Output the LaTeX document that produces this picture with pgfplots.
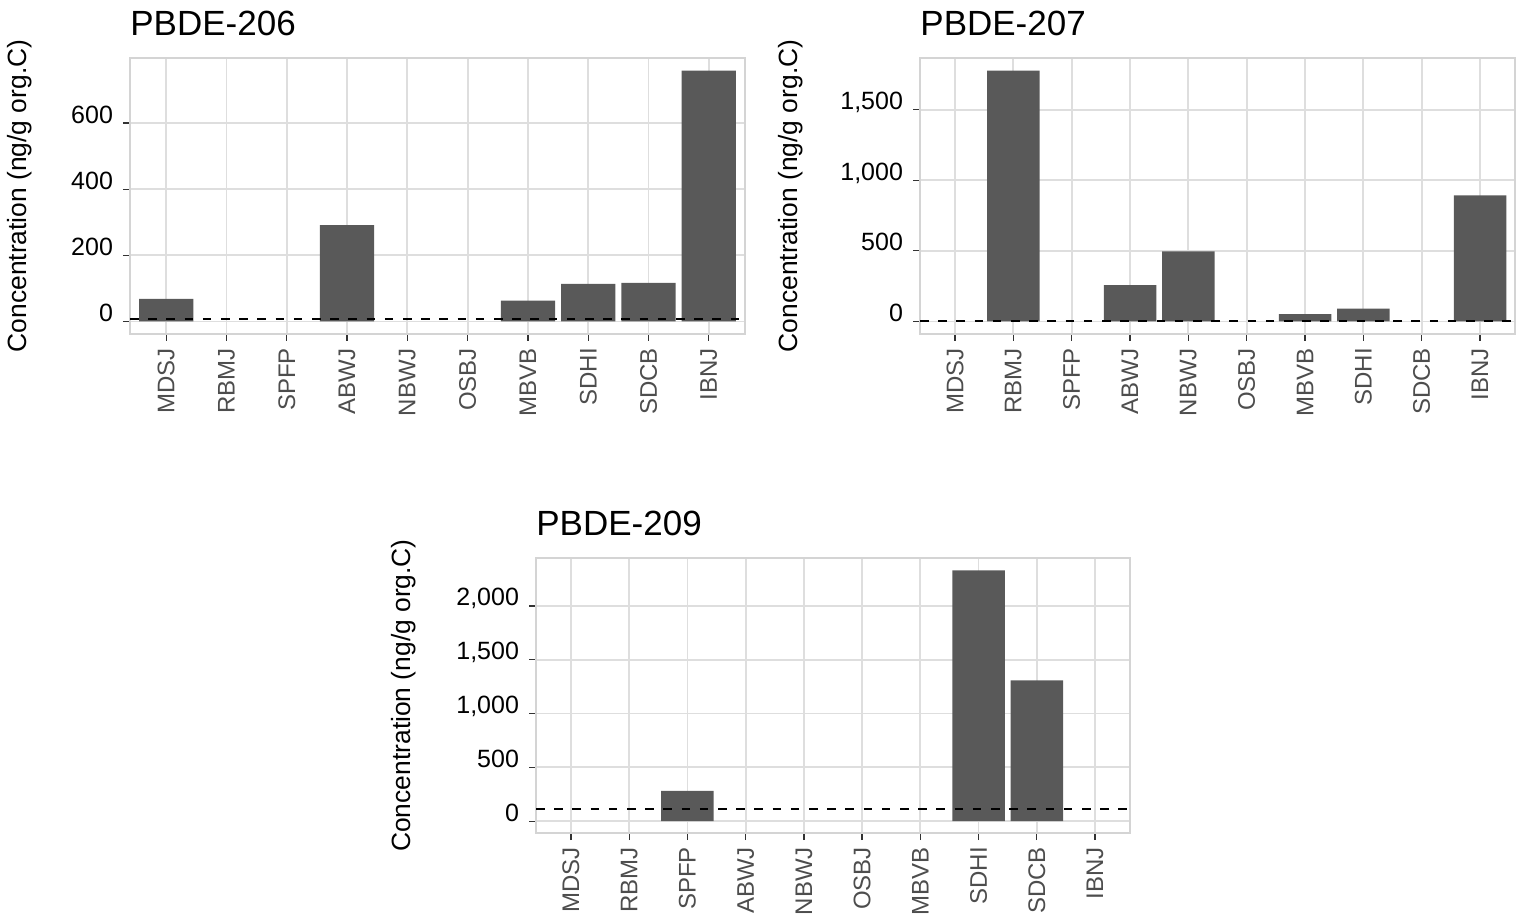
\documentclass[border=0pt]{standalone}
\usepackage{pgfplots}
\pgfplotsset{compat=1.18}
\usepackage{fontspec}
\setmainfont{Liberation Sans}
\definecolor{barc}{HTML}{595959}
\definecolor{gridc}{HTML}{DEDEDE}
\definecolor{framec}{HTML}{D4D4D4}
\definecolor{tickc}{HTML}{333333}
\definecolor{xlabc}{HTML}{4D4D4D}
\pgfplotsset{
  panel/.style={
    scale only axis,
    height=138pt,
    xmin=-0.6, xmax=9.6,
    xtick={0,...,9},
    xticklabels={MDSJ,RBMJ,SPFP,ABWJ,NBWJ,OSBJ,MBVB,SDHI,SDCB,IBNJ},
    axis line style={framec, line width=0.8pt},
    grid=major,
    major grid style={gridc, line width=0.9pt},
    tick align=outside,
    major tick length=3.5pt,
    tick style={tickc, line width=0.65pt},
    xtick pos=bottom, ytick pos=left,
    xticklabel style={rotate=90, anchor=east, font=\fontsize{12}{14}\selectfont, text=xlabc},
    yticklabel style={anchor=base east, xshift=-1.5pt, font=\fontsize{12.5}{15}\selectfont, text=black},
    ylabel={Concentration (ng/g org.C)},
    ylabel style={font=\fontsize{13.2}{16}\selectfont, anchor=center},
    title style={at={(0,1)}, anchor=base west, inner sep=0pt, yshift=5pt, font=\fontsize{17.5}{21}\selectfont},
  },
  bars/.style={ybar, bar width=0.9, fill=barc, draw=none},
  dl/.style={black, line width=1.1pt, dash pattern=on 4.3pt off 4.8pt, forget plot},
}
\begin{document}
\begin{tikzpicture}
\useasboundingbox (0,0) rectangle (763pt,458pt);
% PBDE-206
\begin{axis}[panel, at={(65pt,291pt)}, anchor=south west, width=307.5pt,
  title={PBDE-206},
  ymin=-38, ymax=797, ytick={0,200,400,600}, yticklabels={0,200,400,600},
  ylabel style={at={(axis description cs:-0.1789,0.5)}}]
\addplot[bars] coordinates {(0,68) (3,291) (6,63) (7,114) (8,117) (9,759)};
\addplot[dl] coordinates {(-0.6,7) (9.6,7)};
\end{axis}
% PBDE-207
\begin{axis}[panel, at={(460pt,291pt)}, anchor=south west, width=297.5pt,
  title={PBDE-207},
  ymin=-89, ymax=1866, ytick={0,500,1000,1500}, yticklabels={0,500,{1,000},{1,500}},
  ylabel style={at={(axis description cs:-0.2168,0.5)}}]
\addplot[bars] coordinates {(1,1777) (3,257) (4,497) (6,52) (7,90) (9,893)};
\addplot[dl] coordinates {(-0.6,5) (9.6,5)};
\end{axis}
% PBDE-209
\begin{axis}[panel, at={(268pt,41.5pt)}, anchor=south west, width=297pt, height=137.5pt,
  title={PBDE-209},
  ymin=-110, ymax=2445, ytick={0,500,1000,1500,2000}, yticklabels={0,500,{1,000},{1,500},{2,000}},
  ylabel style={at={(axis description cs:-0.2226,0.5)}}]
\addplot[bars] coordinates {(2,281) (7,2330) (8,1309)};
\addplot[dl] coordinates {(-0.6,115) (9.6,115)};
\end{axis}
\end{tikzpicture}
\end{document}
